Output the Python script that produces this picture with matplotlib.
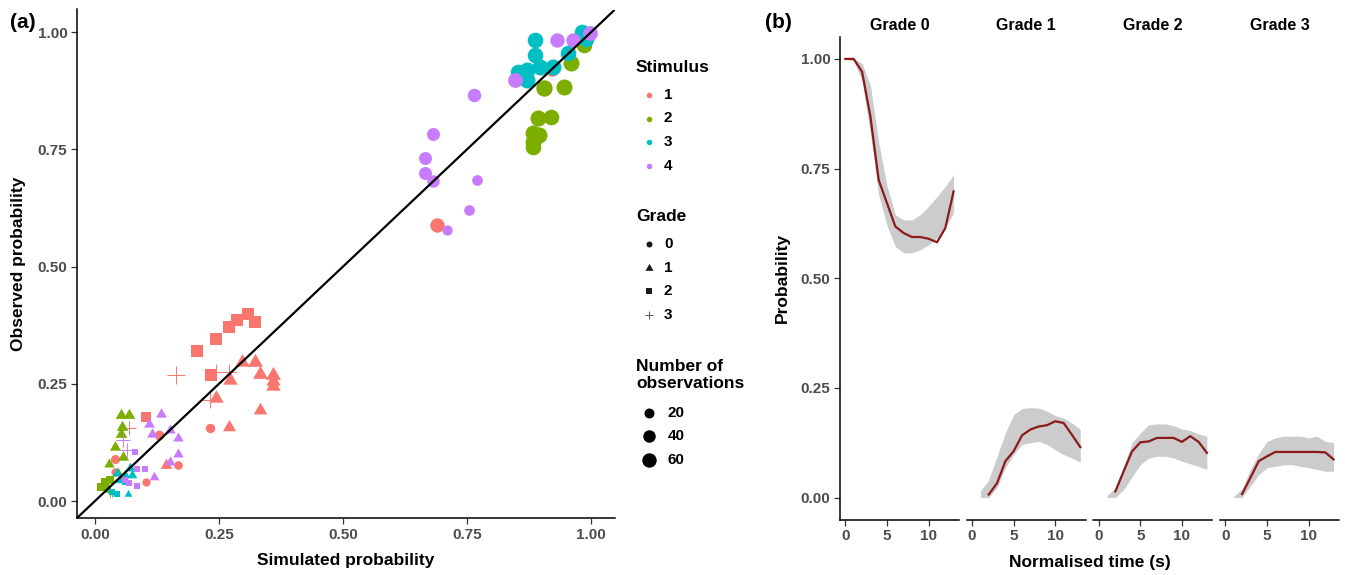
import numpy as np
import matplotlib
matplotlib.use("Agg")
import matplotlib.pyplot as plt
from matplotlib.path import Path

plt.rcParams['font.family'] = ['Liberation Sans', 'DejaVu Sans']
plt.rcParams['font.weight'] = 'bold'

# ---------------- data: panel (a) ----------------
# stimulus, grade, simulated probability, observed probability, number of observations
stim = [1]*8 + [1]*11 + [1]*8 + [1]*5 \
     + [2]*11 + [2]*8 + [2]*4 + [2]*1 \
     + [3]*10 + [3]*6 + [3]*3 + [3]*1 \
     + [4]*12 + [4]*8 + [4]*6 + [4]*2
grade = [0]*8 + [1]*11 + [2]*8 + [3]*5 \
      + [0]*11 + [1]*8 + [2]*4 + [3]*1 \
      + [0]*10 + [1]*6 + [2]*3 + [3]*1 \
      + [0]*12 + [1]*8 + [2]*6 + [3]*2
sim_prob = [0.690, 0.922, 0.232, 0.130, 0.168, 0.104, 0.040, 0.040,
            0.296, 0.323, 0.333, 0.359, 0.359, 0.359, 0.272, 0.245, 0.333, 0.271, 0.143,
            0.309, 0.323, 0.286, 0.270, 0.245, 0.206, 0.233, 0.104,
            0.163, 0.245, 0.271, 0.232, 0.069,
            0.892, 0.919, 0.882, 0.894, 0.882, 0.882, 0.905, 0.946, 0.959, 0.985, 0.025,
            0.052, 0.069, 0.054, 0.052, 0.040, 0.056, 0.029, 0.047,
            0.020, 0.030, 0.013, 0.025,
            0.030,
            0.887, 0.981, 0.887, 0.954, 0.924, 0.897, 0.870, 0.853, 0.870, 0.990,
            0.044, 0.060, 0.071, 0.074, 0.067, 0.050,
            0.045, 0.034, 0.060,
            0.035,
            0.931, 0.963, 0.997, 0.847, 0.764, 0.682, 0.665, 0.665, 0.682, 0.770, 0.754, 0.709,
            0.134, 0.109, 0.116, 0.151, 0.168, 0.168, 0.151, 0.119,
            0.081, 0.085, 0.102, 0.069, 0.085, 0.060,
            0.056, 0.064]
obs_prob = [0.588, 0.922, 0.155, 0.141, 0.077, 0.040, 0.089, 0.062,
            0.297, 0.297, 0.272, 0.269, 0.256, 0.246, 0.258, 0.219, 0.194, 0.158, 0.078,
            0.398, 0.382, 0.386, 0.372, 0.345, 0.319, 0.269, 0.179,
            0.269, 0.276, 0.276, 0.215, 0.155,
            0.816, 0.819, 0.784, 0.780, 0.766, 0.755, 0.880, 0.882, 0.933, 0.972, 0.030,
            0.183, 0.183, 0.158, 0.144, 0.116, 0.094, 0.080, 0.060,
            0.041, 0.045, 0.031, 0.025,
            0.020,
            0.983, 1.000, 0.951, 0.956, 0.926, 0.926, 0.919, 0.915, 0.898, 0.985,
            0.059, 0.055, 0.070, 0.055, 0.016, 0.045,
            0.015, 0.020, 0.040,
            0.018,
            0.983, 0.983, 0.998, 0.898, 0.866, 0.782, 0.732, 0.699, 0.683, 0.684, 0.620, 0.578,
            0.185, 0.164, 0.144, 0.151, 0.134, 0.101, 0.084, 0.052,
            0.105, 0.068, 0.068, 0.038, 0.032, 0.045,
            0.131, 0.109]
n_obs = [60, 60, 16, 18, 12, 10, 14, 10,
         25, 28, 28, 28, 25, 25, 25, 25, 20, 18, 12,
         55, 55, 55, 50, 50, 45, 45, 25,
         40, 30, 30, 25, 20,
         80, 75, 80, 80, 80, 75, 85, 80, 80, 75, 5,
         12, 12, 12, 12, 10, 10, 8, 6,
         14, 14, 12, 8,
         4,
         75, 75, 75, 75, 80, 80, 80, 75, 80, 75,
         6, 6, 7, 6, 2, 5,
         3, 3, 4,
         3,
         60, 60, 65, 65, 50, 45, 45, 45, 40, 25, 25, 22,
         9, 9, 9, 8, 8, 8, 8, 6,
         8, 8, 8, 6, 6, 6,
         15, 15]

stim_labels = ['1', '2', '3', '4']
grade_labels = ['0', '1', '2', '3']
size_breaks = [20, 40, 60]

# ---------------- data: panel (b) ----------------
time_s = list(range(14))
strip_titles = ['Grade 0', 'Grade 1', 'Grade 2', 'Grade 3']
nan = np.nan
prob_mean = [
    [1.0, 1.0, 0.971, 0.869, 0.724, 0.671, 0.618, 0.603, 0.594, 0.594, 0.590, 0.582, 0.614, 0.698],
    [nan, nan, 0.007, 0.033, 0.083, 0.106, 0.142, 0.155, 0.162, 0.165, 0.174, 0.170, 0.143, 0.115],
    [nan, nan, 0.014, 0.060, 0.105, 0.126, 0.128, 0.136, 0.136, 0.136, 0.127, 0.140, 0.127, 0.102],
    [nan, nan, 0.008, 0.045, 0.083, 0.094, 0.104, 0.104, 0.104, 0.104, 0.104, 0.104, 0.103, 0.087],
]
prob_lo = [
    [1.0, 0.995, 0.95, 0.83, 0.69, 0.62, 0.572, 0.558, 0.558, 0.565, 0.576, 0.592, 0.615, 0.649],
    [nan, 0.0, 0.0, 0.023, 0.068, 0.098, 0.121, 0.125, 0.128, 0.121, 0.109, 0.098, 0.090, 0.081],
    [nan, 0.0, 0.0, 0.018, 0.047, 0.075, 0.090, 0.094, 0.094, 0.090, 0.083, 0.077, 0.071, 0.064],
    [nan, 0.0, 0.0, 0.026, 0.052, 0.068, 0.071, 0.075, 0.075, 0.071, 0.068, 0.064, 0.060, 0.060],
]
prob_hi = [
    [1.0, 1.0, 0.99, 0.94, 0.81, 0.71, 0.645, 0.633, 0.633, 0.645, 0.664, 0.686, 0.709, 0.736],
    [nan, 0.015, 0.041, 0.094, 0.148, 0.189, 0.203, 0.205, 0.204, 0.197, 0.187, 0.181, 0.170, 0.155],
    [nan, 0.005, 0.022, 0.071, 0.125, 0.147, 0.166, 0.168, 0.168, 0.164, 0.156, 0.153, 0.145, 0.140],
    [nan, 0.003, 0.020, 0.064, 0.100, 0.128, 0.136, 0.140, 0.140, 0.140, 0.136, 0.140, 0.128, 0.125],
]

# ---------------- style ----------------
stim_colors = {1: '#F8766D', 2: '#7CAE00', 3: '#00BFC4', 4: '#C77CFF'}
TICK_COL = '#4D4D4D'
W, H = 1345, 575
fig = plt.figure(figsize=(W / 100, H / 100), dpi=100)

def px_axes(l, t, r, b):
    return fig.add_axes([l / W, 1 - b / H, (r - l) / W, (b - t) / H])

PT = 0.72  # px -> pt at 100 dpi
tri_path = Path([(0, 1), (-0.866, -0.5), (0.866, -0.5), (0, 1)], closed=True)
markers = {0: ('o', 1.0), 1: (tri_path, 1.555), 2: ('s', 0.886), 3: ('+', 1.414)}

def diam(n):
    return 4 + 12 * np.sqrt(np.asarray(n, float) / 80.0)

def draw_pts(ax, xs, ys, g, color, d_px, zorder=2):
    m, k = markers[g]
    s = (np.asarray(d_px) * k * PT) ** 2
    if g == 3:
        ax.scatter(xs, ys, s=s, marker=m, c=color, linewidths=0.7, zorder=zorder)
    else:
        ax.scatter(xs, ys, s=s, marker=m, c=color, linewidths=0, zorder=zorder)

def style_axis(ax):
    for sp in ['top', 'right']:
        ax.spines[sp].set_visible(False)
    for sp in ['left', 'bottom']:
        ax.spines[sp].set_linewidth(1.1)
        ax.spines[sp].set_color('black')
    ax.tick_params(length=4, width=0.9, color='#333333', labelcolor=TICK_COL,
                   labelsize=11, pad=3)
    for lab in ax.get_xticklabels() + ax.get_yticklabels():
        lab.set_fontweight('bold')

# ---------------- panel (a) ----------------
axa = px_axes(77, 9.5, 615, 518)
axa.set_xlim(-0.036, 1.048)
axa.set_ylim(-0.036, 1.048)
sim_arr = np.array(sim_prob); obs_arr = np.array(obs_prob)
st_arr = np.array(stim); gr_arr = np.array(grade); n_arr = np.array(n_obs)
for i in range(len(sim_arr)):
    draw_pts(axa, [sim_arr[i]], [obs_arr[i]], int(gr_arr[i]), stim_colors[int(st_arr[i])],
             [diam(n_arr[i])])
axa.plot([-0.1, 1.1], [-0.1, 1.1], color='black', lw=1.6, zorder=5)
ticks = [0, 0.25, 0.5, 0.75, 1.0]
axa.set_xticks(ticks, ['0.00', '0.25', '0.50', '0.75', '1.00'])
axa.set_yticks(ticks, ['0.00', '0.25', '0.50', '0.75', '1.00'])
style_axis(axa)
axa.set_xlabel('Simulated probability', fontsize=12.5, fontweight='bold', labelpad=8)
axa.set_ylabel('Observed probability', fontsize=12.5, fontweight='bold', labelpad=8)

# ---------------- legend (pixel overlay) ----------------
ov = fig.add_axes([0, 0, 1, 1])
ov.set_xlim(0, W); ov.set_ylim(H, 0); ov.axis('off')
ov.patch.set_alpha(0)
lx, tx = 648.5, 664
ov.text(636, 67, 'Stimulus', fontsize=12.5, fontweight='bold', va='center', ha='left')
for j, lab in enumerate(stim_labels):
    y = 95 + j * 23.5
    draw_pts(ov, [lx], [y], 0, stim_colors[j + 1], [5.5])
    ov.text(tx, y, lab, fontsize=11, fontweight='bold', va='center', ha='left')
ov.text(636, 216.5, 'Grade', fontsize=12.5, fontweight='bold', va='center', ha='left')
for j, lab in enumerate(grade_labels):
    y = 244 + j * 23.7
    draw_pts(ov, [lx], [y], j, '#1A1A1A' if j < 3 else '#555555', [6])
    ov.text(tx, y, lab, fontsize=11, fontweight='bold', va='center', ha='left')
ov.text(636, 375, 'Number of\nobservations', fontsize=12.5, fontweight='bold',
        va='center', ha='left', linespacing=1.2)
for j, nb in enumerate(size_breaks):
    y = 413 + j * 23.3
    draw_pts(ov, [lx], [y], 0, 'black', [diam(nb)])
    ov.text(tx + 4, y, str(nb), fontsize=11, fontweight='bold', va='center', ha='left')

ov.text(10, 23, '(a)', fontsize=15, fontweight='bold', va='center', ha='left')
ov.text(765, 23, '(b)', fontsize=15, fontweight='bold', va='center', ha='left')

# ---------------- panel (b) ----------------
facet_left = [840, 966.7, 1093.3, 1220]
fw = 119
for k in range(4):
    ax = px_axes(facet_left[k], 37, facet_left[k] + fw, 519.5)
    ax.set_xlim(-0.65, 13.65)
    ax.set_ylim(-0.05, 1.05)
    ax.fill_between(time_s, prob_lo[k], prob_hi[k], color='#CCCCCC', lw=0)
    ax.plot(time_s, prob_mean[k], color='#8B1A1A', lw=1.6)
    ax.set_xticks([0, 5, 10], ['0', '5', '10'])
    ax.set_yticks(ticks, ['0.00', '0.25', '0.50', '0.75', '1.00'])
    style_axis(ax)
    if k > 0:
        ax.spines['left'].set_visible(False)
        ax.tick_params(axis='y', left=False, labelleft=False)
    else:
        ax.set_ylabel('Probability', fontsize=12.5, fontweight='bold', labelpad=8)
    ax.set_title(strip_titles[k], fontsize=11.5, fontweight='bold', pad=5)
    ax.patch.set_alpha(0)

fig.text((840 + 1339) / 2 / W, 1 - 562 / H, 'Normalised time (s)', fontsize=12.5,
         fontweight='bold', ha='center', va='center')

fig.savefig('out.png', dpi=100)
